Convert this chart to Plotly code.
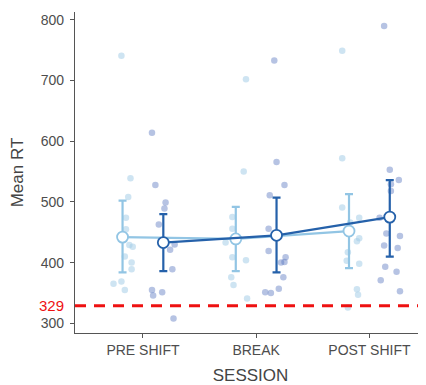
import plotly.graph_objects as go

sessions = ["PRE SHIFT", "BREAK", "POST SHIFT"]
threshold = 329

# Summary (mean and interval) per session, two groups
light_mean = [442, 439, 452]
light_hi = [502, 492, 513]
light_lo = [384, 386, 391]
dark_mean = [433, 445, 475]
dark_hi = [480, 507, 536]
dark_lo = [386, 384, 410]

# Individual points: session index, horizontal jitter (in category units), value
light_pts_sess = [1]*13 + [2]*10 + [3]*13
light_pts_jit = [-0.19, -0.11, -0.13, -0.15, -0.15, -0.12, -0.09, -0.16, -0.10, -0.10, -0.19, -0.26, -0.16,
                 -0.09, -0.11, -0.21, -0.21, -0.27, -0.21, -0.09, -0.22, -0.20, -0.08,
                 -0.24, -0.24, -0.24, -0.09, -0.17, -0.09, -0.11, -0.19, -0.20, -0.09, -0.11, -0.10, -0.19]
light_pts_val = [741, 539, 508, 474, 455, 429, 426, 410, 400, 389, 369, 365, 355,
                 702, 550, 475, 456, 433, 409, 404, 376, 363, 341,
                 749, 572, 491, 474, 466, 440, 435, 417, 403, 398, 356, 347, 326]

dark_pts_sess = [1]*12 + [2]*13 + [3]*14
dark_pts_jit = [0.08, 0.11, 0.20, 0.19, 0.14, 0.28, 0.24, 0.26, 0.08, 0.09, 0.17, 0.27,
                0.16, 0.18, 0.25, 0.12, 0.11, 0.11, 0.26, 0.22, 0.25, 0.24, 0.20, 0.08, 0.13,
                0.13, 0.18, 0.26, 0.19, 0.19, 0.09, 0.15, 0.27, 0.13, 0.25, 0.14, 0.24, 0.10, 0.27]
dark_pts_val = [614, 528, 499, 489, 463, 430, 421, 389, 355, 346, 351, 308,
                733, 566, 528, 511, 456, 419, 409, 400, 401, 376, 357, 351, 350,
                790, 553, 536, 529, 518, 474, 448, 444, 428, 424, 393, 385, 371, 353]

dodge = 0.18
xs = [1, 2, 3]

LIGHT = "#92c5e4"
DARK = "#2561aa"
FONT = "Liberation Sans, Arial"

fig = go.Figure()

fig.add_trace(go.Scatter(
    x=[s + j for s, j in zip(light_pts_sess, light_pts_jit)], y=light_pts_val,
    mode="markers", marker=dict(size=6.5, color="rgba(158,202,230,0.5)"),
    showlegend=False, hoverinfo="skip"))
fig.add_trace(go.Scatter(
    x=[s + j for s, j in zip(dark_pts_sess, dark_pts_jit)], y=dark_pts_val,
    mode="markers", marker=dict(size=6.5, color="rgba(80,112,188,0.42)"),
    showlegend=False, hoverinfo="skip"))

fig.add_shape(type="line", xref="paper", x0=0, x1=1, yref="y", y0=threshold, y1=threshold,
              line=dict(color="#ee1111", width=3, dash="11px,8px"))

for mean, hi, lo, off, col in [(light_mean, light_hi, light_lo, -dodge, LIGHT),
                               (dark_mean, dark_hi, dark_lo, dodge, DARK)]:
    fig.add_trace(go.Scatter(
        x=[x + off for x in xs], y=mean, mode="lines+markers",
        line=dict(color=col, width=2.2),
        marker=dict(size=11, color="white", line=dict(color=col, width=1.8)),
        error_y=dict(type="data", symmetric=False,
                     array=[h - m for h, m in zip(hi, mean)],
                     arrayminus=[m - l for m, l in zip(mean, lo)],
                     color=col, thickness=2.2, width=4),
        showlegend=False, hoverinfo="skip"))

fig.add_annotation(x=0, xref="paper", xanchor="right", xshift=-9, y=threshold, yref="y",
                   text=str(threshold), showarrow=False,
                   font=dict(color="#ee1111", size=15, family=FONT))

# The page body adds an 8px margin, so the figure is drawn 8px smaller
fig.update_layout(
    width=418, height=377,
    margin=dict(l=67, r=0, t=4, b=52),
    paper_bgcolor="white", plot_bgcolor="white",
    font=dict(family=FONT, color="#4d4d4d"),
    xaxis=dict(range=[0.4, 3.5], tickvals=xs, ticktext=sessions,
               showgrid=False, zeroline=False, showline=True, linecolor="#555555", linewidth=1.2,
               ticks="outside", ticklen=4, tickcolor="#555555",
               tickfont=dict(size=14, color="#4d4d4d"),
               title=dict(text="SESSION", font=dict(size=17, color="#444444"), standoff=12)),
    yaxis=dict(range=[284, 813], tickvals=[300, 400, 500, 600, 700, 800],
               showgrid=False, zeroline=False, showline=True, linecolor="#555555", linewidth=1.2,
               ticks="outside", ticklen=4, tickcolor="#555555", ticklabelstandoff=3,
               tickfont=dict(size=14, color="#4d4d4d"),
               title=dict(text="Mean RT", font=dict(size=17, color="#444444"), standoff=12)),
)

fig.write_html("out.html")
